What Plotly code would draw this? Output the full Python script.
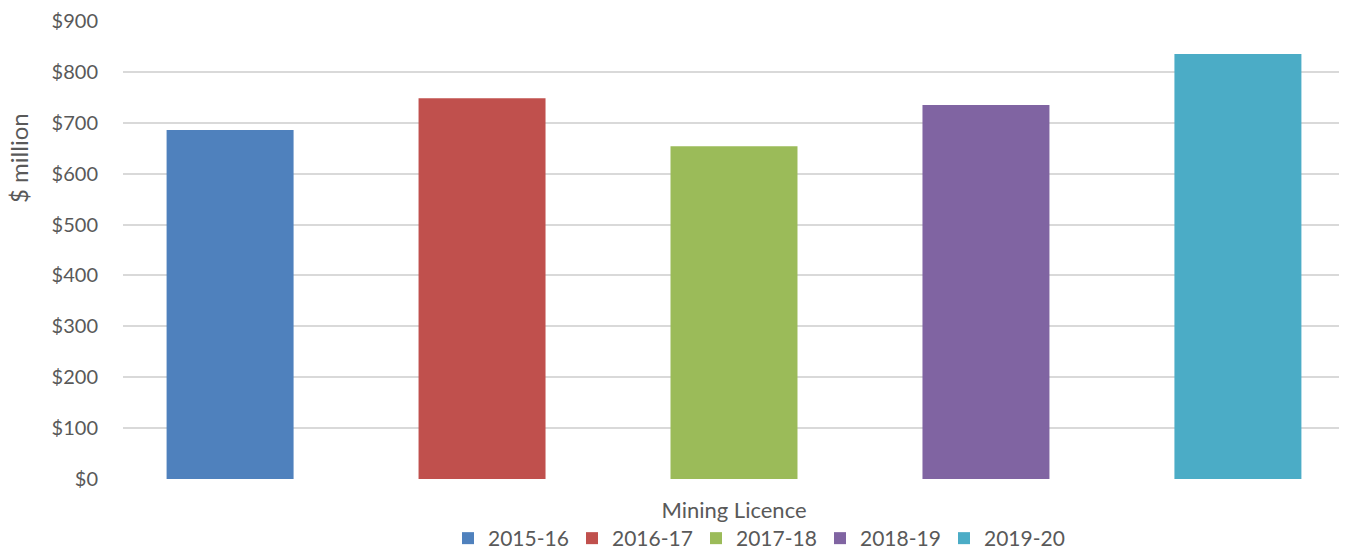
import plotly.graph_objects as go

category = ["Mining Licence"]
series_names = ["2015-16", "2016-17", "2017-18", "2018-19", "2019-20"]
series_values = [686, 748, 654, 735, 835]
colors = ["#4F81BD", "#C0504D", "#9BBB59", "#8064A2", "#4BACC6"]
y_ticks = [0, 100, 200, 300, 400, 500, 600, 700, 800, 900]
y_ticklabels = ["$" + str(v) for v in y_ticks]

FONT = "Lato"
TXT = "#595959"

# page has an 8px body margin; figure is sized to fit the remaining window
OFF = 8
W, H = 1347 - OFF, 549 - OFF
ML, MR, MT, MB = 123 - OFF, 2, 13, 70
plot_w = W - ML - MR
plot_h = H - MT - MB
plot_bottom = H - MB


def px_x(page_x):
    return (page_x - OFF - ML) / plot_w


def px_y(page_y):
    return (plot_bottom - (page_y - OFF)) / plot_h


fig = go.Figure()
for name, val, col in zip(series_names, series_values, colors):
    fig.add_trace(go.Bar(name=name, x=category, y=[val], marker=dict(color=col, line=dict(width=0))))

fig.update_layout(
    width=W, height=H,
    margin=dict(l=ML, r=MR, t=MT, b=MB, autoexpand=False),
    paper_bgcolor="white", plot_bgcolor="white",
    barmode="group", bargap=0, bargroupgap=0.496,
    font=dict(family=FONT, size=20, color=TXT),
    showlegend=True,
    legend=dict(orientation="h", x=px_x(758), xanchor="center",
                y=px_y(518), yanchor="top",
                font=dict(family=FONT, size=21, color=TXT), entrywidth=79,
                itemwidth=30, tracegroupgap=0, bgcolor="rgba(0,0,0,0)"),
    xaxis=dict(type="category", range=[-0.485, 0.485], showgrid=False, showline=False,
               zeroline=False, ticks="", tickfont=dict(family=FONT, size=22, color=TXT),
               ticklabelstandoff=16),
    yaxis=dict(range=[0, 900], tickvals=y_ticks, ticktext=y_ticklabels, showgrid=True,
               gridcolor="#D9D9D9", gridwidth=2, zeroline=False, showline=False,
               ticks="", tickfont=dict(family=FONT, size=20, color=TXT),
               ticklabelstandoff=24),
    annotations=[dict(text="$ million", x=px_x(18), y=px_y(158),
                      xref="paper", yref="paper", xanchor="center", yanchor="middle",
                      showarrow=False, textangle=-90,
                      font=dict(family=FONT, size=24, color=TXT))],
)

fig.write_html("out.html")
